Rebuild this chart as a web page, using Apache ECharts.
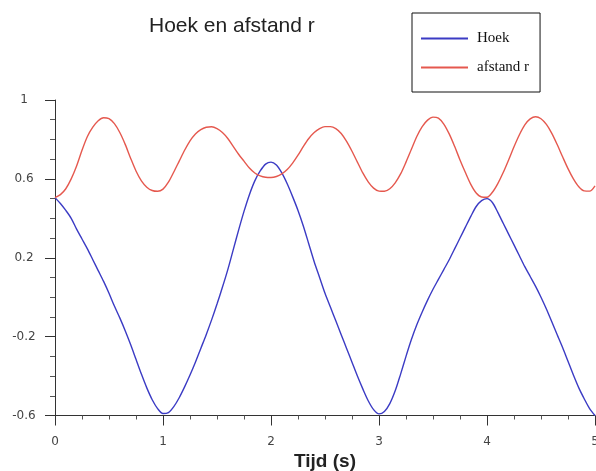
<!DOCTYPE html>
<html>
<head>
<meta charset="utf-8">
<script src="https://cdn.jsdelivr.net/npm/echarts@6/dist/echarts.min.js"></script>
<style>
html,body{margin:0;padding:0;background:#fff;overflow:hidden;}
#chart{width:596px;height:471px;}
</style>
</head>
<body>
<div id="chart"></div>
<script>
// Time points (s)
const tValues = [0,0.05,0.1,0.15,0.2,0.25,0.3,0.35,0.4,0.45,0.5,0.55,0.6,0.65,0.7,0.75,0.8,0.85,0.9,0.95,
  1.0,1.05,1.1,1.15,1.2,1.25,1.3,1.35,1.4,1.45,1.5,1.55,1.6,1.65,1.7,1.75,1.8,1.85,1.9,1.95,
  2.0,2.05,2.1,2.15,2.2,2.25,2.3,2.35,2.4,2.45,2.5,2.55,2.6,2.65,2.7,2.75,2.8,2.85,2.9,2.95,
  3.0,3.05,3.1,3.15,3.2,3.25,3.3,3.35,3.4,3.45,3.5,3.55,3.6,3.65,3.7,3.75,3.8,3.85,3.9,3.95,
  4.0,4.05,4.1,4.15,4.2,4.25,4.3,4.35,4.4,4.45,4.5,4.55,4.6,4.65,4.7,4.75,4.8,4.85,4.9,4.95,5.0];

// Hoek (blue)
const hoekV = [0.505,0.475,0.44,0.40,0.345,0.295,0.245,0.19,0.135,0.08,0.02,-0.045,-0.105,-0.17,-0.24,-0.315,-0.39,-0.46,-0.52,-0.565,
  -0.59,-0.585,-0.555,-0.51,-0.455,-0.395,-0.33,-0.26,-0.19,-0.115,-0.035,0.05,0.14,0.24,0.34,0.435,0.52,0.59,0.64,0.675,
  0.685,0.67,0.63,0.575,0.51,0.44,0.36,0.27,0.18,0.10,0.02,-0.05,-0.12,-0.19,-0.26,-0.33,-0.40,-0.465,-0.525,-0.57,
  -0.592,-0.58,-0.54,-0.475,-0.39,-0.30,-0.215,-0.14,-0.075,-0.015,0.04,0.09,0.14,0.19,0.245,0.30,0.355,0.41,0.46,0.49,
  0.50,0.48,0.43,0.375,0.32,0.265,0.21,0.155,0.105,0.055,0.0,-0.06,-0.125,-0.19,-0.255,-0.325,-0.395,-0.46,-0.515,-0.565,-0.60];

// afstand r (red)
const afstandV = [0.505,0.52,0.55,0.60,0.665,0.745,0.815,0.862,0.895,0.91,0.905,0.88,0.835,0.775,0.705,0.64,0.59,0.558,0.541,0.537,
  0.548,0.583,0.635,0.69,0.745,0.793,0.828,0.85,0.862,0.864,0.855,0.835,0.805,0.765,0.725,0.69,0.655,0.63,0.615,0.608,
  0.607,0.612,0.625,0.647,0.68,0.72,0.765,0.805,0.835,0.855,0.865,0.865,0.855,0.83,0.79,0.74,0.685,0.63,0.585,0.553,
  0.538,0.537,0.55,0.58,0.625,0.685,0.75,0.815,0.865,0.898,0.913,0.908,0.878,0.828,0.765,0.696,0.632,0.572,0.528,0.508,
  0.507,0.532,0.576,0.632,0.696,0.763,0.824,0.874,0.904,0.915,0.905,0.876,0.831,0.774,0.712,0.652,0.600,0.56,0.539,0.538,0.565];

const seriesNames = ['Hoek', 'afstand r'];
const titleText = 'Hoek en afstand r';
const xName = 'Tijd (s)';

function pairs(ts, vs) { return ts.map((t, i) => [t, vs[i]]); }

const chart = echarts.init(document.getElementById('chart'));
chart.setOption({
  animation: false,
  backgroundColor: '#ffffff',
  title: {
    text: titleText,
    left: 149, top: 16, padding: 0,
    textStyle: { fontFamily: 'Liberation Sans', fontSize: 21, fontWeight: 'normal', color: '#222' }
  },
  legend: {
    orient: 'vertical',
    left: 412, top: 13,
    padding: [18, 11, 17, 9],
    borderColor: '#111', borderWidth: 1,
    itemWidth: 47, itemHeight: 2, itemGap: 14,
    icon: 'rect',
    textStyle: { fontFamily: 'Liberation Serif', fontSize: 15, color: '#111', padding: [0, 0, 0, 4] },
    data: seriesNames
  },
  grid: { left: 55, right: 1, top: 100, bottom: 55.5, containLabel: false, outerBoundsMode: 'none' },
  xAxis: {
    type: 'value', min: 0, max: 5, interval: 1,
    name: xName, nameLocation: 'middle', nameGap: 31,
    nameTextStyle: { fontFamily: 'Liberation Sans', fontSize: 19, fontWeight: 'bold', color: '#222' },
    axisLine: { onZero: false, lineStyle: { color: '#333', width: 1 } },
    axisTick: { show: true, inside: false, length: 10, lineStyle: { color: '#333' } },
    minorTick: { show: true, splitNumber: 4, length: 4, lineStyle: { color: '#555' } },
    splitLine: { show: false },
    axisLabel: { fontFamily: 'DejaVu Sans', fontSize: 12, color: '#444', margin: 20, showMaxLabel: true, showMinLabel: true }
  },
  yAxis: {
    type: 'value', min: -0.6, max: 1, interval: 0.4,
    axisLine: { show: true, onZero: false, lineStyle: { color: '#333', width: 1 } },
    axisTick: { show: true, inside: false, length: 10, lineStyle: { color: '#333' } },
    minorTick: { show: true, splitNumber: 4, length: 5, lineStyle: { color: '#555' } },
    splitLine: { show: false },
    axisLabel: { fontFamily: 'DejaVu Sans', fontSize: 12, color: '#444', margin: 31, align: 'center' }
  },
  series: [
    { name: seriesNames[0], type: 'line', data: pairs(tValues, hoekV), smooth: 0.3, symbol: 'none',
      lineStyle: { color: '#3b3bc4', width: 1.4 }, itemStyle: { color: '#3b3bc4' } },
    { name: seriesNames[1], type: 'line', data: pairs(tValues, afstandV), smooth: 0.3, symbol: 'none',
      lineStyle: { color: '#e5584e', width: 1.4 }, itemStyle: { color: '#e5584e' } }
  ]
});
</script>
</body>
</html>
